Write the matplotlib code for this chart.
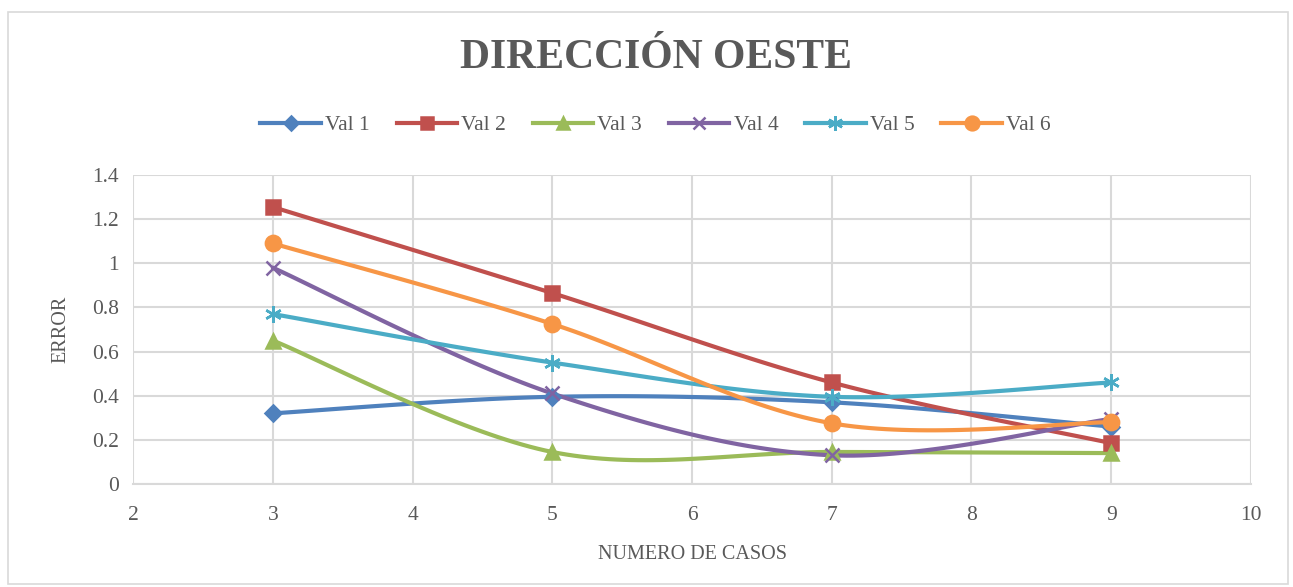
"""Direccion oeste: error vs numero de casos, Excel-style smoothed lines"""

import numpy as np
import matplotlib
matplotlib.use("Agg")
import matplotlib.pyplot as plt
from matplotlib.patches import Rectangle

# data
casos = [3, 5, 7, 9]
val_1 = [0.32, 0.395, 0.37, 0.26]
val_2 = [1.255, 0.865, 0.46, 0.185]
val_3 = [0.65, 0.145, 0.145, 0.14]
val_4 = [0.98, 0.41, 0.13, 0.295]
val_5 = [0.77, 0.55, 0.395, 0.46]
val_6 = [1.09, 0.725, 0.275, 0.28]
series_names = ["Val 1", "Val 2", "Val 3", "Val 4", "Val 5", "Val 6"]

colors = ["#4F81BD", "#C0504D", "#9BBB59", "#8064A2", "#4BACC6", "#F79646"]
markers = ["D", "s", "^", "x", (6, 2, 0), "o"]
msizes = [8, 10, 10, 10, 12, 11]

TEXT = "#595959"
GRID = "#D9D9D9"
SERIF = ["Liberation Serif", "DejaVu Serif"]


def smooth(x, y, n=40):
    '''Excel-like smoothing: cubic bezier with catmull-rom control points'''
    x = np.asarray(x, float)
    y = np.asarray(y, float)
    px = np.concatenate([[x[0]], x, [x[-1]]])
    py = np.concatenate([[y[0]], y, [y[-1]]])
    xs, ys = [], []
    t = np.linspace(0, 1, n)
    for i in range(len(x) - 1):
        p0 = np.array([px[i + 1], py[i + 1]])
        p3 = np.array([px[i + 2], py[i + 2]])
        c1 = p0 + (np.array([px[i + 2], py[i + 2]]) - np.array([px[i], py[i]])) / 6
        c2 = p3 - (np.array([px[i + 3], py[i + 3]]) - np.array([px[i + 1], py[i + 1]])) / 6
        b = ((1 - t) ** 3)[:, None] * p0 + (3 * (1 - t) ** 2 * t)[:, None] * c1 \
            + (3 * (1 - t) * t ** 2)[:, None] * c2 + (t ** 3)[:, None] * p3
        xs.extend(b[:, 0])
        ys.extend(b[:, 1])
    return xs, ys


fig = plt.figure(figsize=(12.93, 5.87), dpi=100)
ax = fig.add_axes([0.1029, 0.1755, 0.8646, 0.5264])

# chart area border
fig.patches.append(Rectangle((0.006, 0.005), 0.99, 0.975, transform=fig.transFigure,
                             fill=False, edgecolor=GRID, linewidth=1.2))

all_vals = [val_1, val_2, val_3, val_4, val_5, val_6]
for vals, name, c, m, ms in zip(all_vals, series_names, colors, markers, msizes):
    sx, sy = smooth(casos, vals)
    ax.plot(sx, sy, color=c, linewidth=3, solid_capstyle="round", zorder=3)
    ax.plot(casos, vals, linestyle="none", marker=m, markersize=ms, color=c,
            markeredgecolor=c, markeredgewidth=1.8, zorder=4)
    # legend proxy
    ax.plot([], [], color=c, linewidth=3, marker=m, markersize=ms * 0.9,
            markeredgewidth=1.8, label=name)

ax.set_xlim(2, 10)
ax.set_ylim(0, 1.4)
ax.set_xticks(range(2, 11))
ax.set_yticks(np.arange(0, 1.41, 0.2))
ax.set_yticklabels(["0", "0.2", "0.4", "0.6", "0.8", "1", "1.2", "1.4"])
ax.grid(True, color=GRID, linewidth=1.5)
ax.set_axisbelow(True)
for s in ["top", "right", "left"]:
    ax.spines[s].set_visible(False)
ax.spines["bottom"].set_color(GRID)
ax.spines["bottom"].set_linewidth(1.5)
ax.tick_params(length=0, labelsize=15.5, labelcolor=TEXT)
ax.tick_params(axis="x", pad=16)
ax.tick_params(axis="y", pad=10)
for lab in ax.get_xticklabels() + ax.get_yticklabels():
    lab.set_family(SERIF)

ax.set_xlabel("NUMERO DE CASOS", family=SERIF, fontsize=14.5, color=TEXT, labelpad=14)
ax.set_ylabel("ERROR", family=SERIF, fontsize=14.5, color=TEXT, labelpad=16)

fig.text(0.5075, 0.901, "DIRECCIÓN OESTE", family=SERIF, fontsize=30, fontweight="bold",
         color=TEXT, ha="center", va="center")

handles, labels = ax.get_legend_handles_labels()
leg = fig.legend(handles, labels, loc="center", bbox_to_anchor=(0.507, 0.787), ncol=6,
                 frameon=False, prop={"family": SERIF, "size": 15.5}, handlelength=2.8,
                 handletextpad=0.2, columnspacing=1.25)
for t in leg.get_texts():
    t.set_color(TEXT)

fig.savefig("out.png", dpi=100)
